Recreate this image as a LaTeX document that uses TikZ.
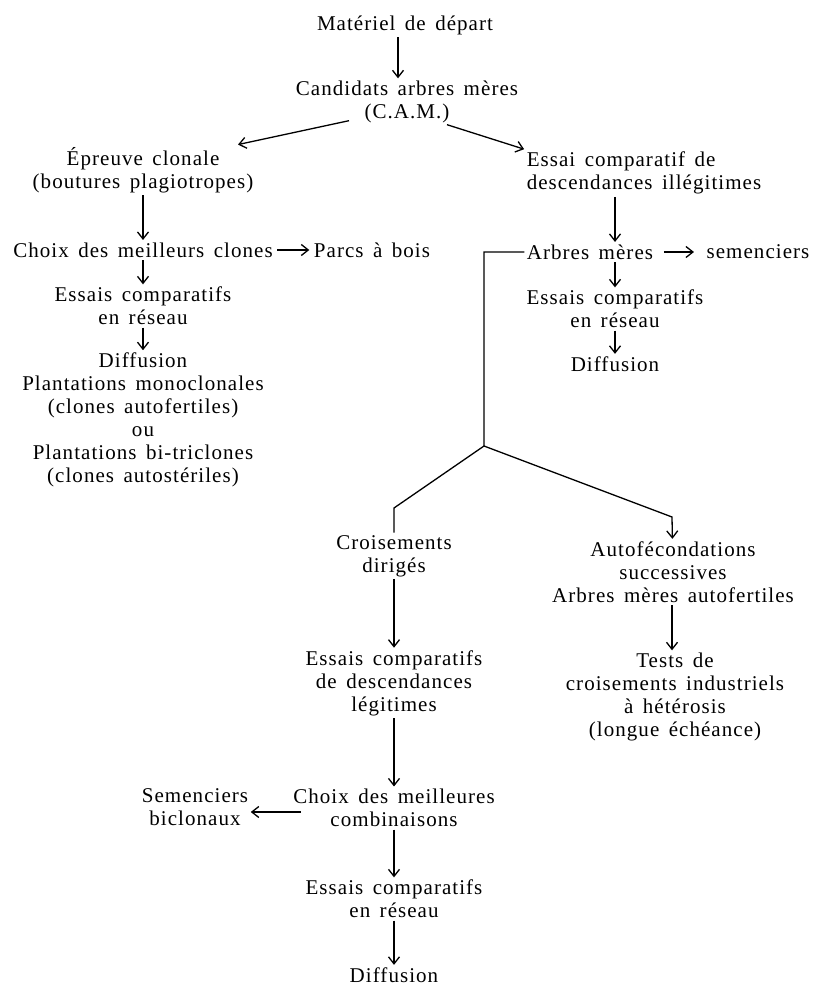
\documentclass[tikz,border=0pt]{standalone}
\usepackage{fontspec}
\setmainfont{Liberation Serif}[LetterSpace=5,WordSpace=1.5]
\usetikzlibrary{arrows.meta}

\begin{document}
\begin{tikzpicture}[x=1pt,y=-1pt,line width=1.3pt,
  every node/.style={align=center,inner sep=2pt,
    font=\fontsize{21}{23}\selectfont},
  arr/.style={-{Straight Barb[length=7pt,width=11pt]}}]

  \useasboundingbox (0,0) rectangle (815,987);

  % Starting material and candidate mother trees

  \node (mat) at (405,25) {Matériel de départ};
  \node (cand) at (407,102) {Candidats arbres mères\\(C.A.M.)};

  % Left branch: clonal selection

  \node (epr) at (143,170) {Épreuve clonale\\(boutures plagiotropes)};
  \node (clones) at (143,250) {Choix des meilleurs clones};
  \node (parcs) at (372,250) {Parcs à bois};
  \node (essL) at (143,306) {Essais comparatifs\\en réseau};
  \node (diffL) at (143,420) {Diffusion\\Plantations monoclonales\\
    (clones autofertiles)\\ou\\Plantations bi-triclones\\(clones autostériles)};

  % Right branch: progeny trials

  \node [align=left] (essai) at (644,173)
    {Essai comparatif de\\descendances illégitimes};
  \node (arbres) at (590,252) {Arbres mères};
  \node (semR) at (758,252) {semenciers};
  \node (essR) at (615,309) {Essais comparatifs\\en réseau};
  \node (diffR) at (615,364) {Diffusion};

  % Lower part: controlled crosses and selfing

  \coordinate (fork) at (484,446);
  \coordinate (forkL) at (394,508);
  \coordinate (forkR) at (672,517);

  \node (crois) at (394,556) {Croisements\\dirigés};
  \node (autof) at (673,572) {Autofécondations\\successives\\
    Arbres mères autofertiles};
  \node (tests) at (675,697) {Tests de\\croisements industriels\\
    à hétérosis\\(longue échéance)};
  \node (essB) at (394,683) {Essais comparatifs\\de descendances\\légitimes};
  \node (choixB) at (394,808) {Choix des meilleures\\combinaisons};
  \node (semB) at (195,807) {Semenciers\\biclonaux};
  \node (resB) at (394,899) {Essais comparatifs\\en réseau};
  \node (diffB) at (394,975) {Diffusion};

  % connections

  \draw [arr] ([xshift=-7pt]mat.south) -- ([xshift=-9pt]cand.north);
  \draw [arr] ([shift={(-58,-5)}]cand.south) -- ([xshift=95pt]epr.north);
  \draw [arr] ([shift={(40,-1)}]cand.south) -- (essai.north west);

  \draw [arr] (epr) -- (clones);
  \draw [arr, shorten <=2pt, shorten >=2pt] (clones) -- (parcs);
  \draw [arr] (clones) -- (essL);
  \draw [arr] (essL) -- (diffL);

  \draw [arr] (essai.south -| essR) -- (arbres.north -| essR);
  \draw [arr, shorten <=8pt, shorten >=10pt] (arbres) -- (semR);
  \draw [arr] (arbres.south -| essR) -- (essR);
  \draw [arr] (essR) -- (diffR);

  \draw (arbres.west) -| (fork) -- (forkL) -- (crois);
  \draw [arr] (fork) -- (forkR) -- (autof);
  \draw [arr] (autof.south -| forkR) -- (tests.north -| forkR);

  \draw [arr] (crois) -- (essB);
  \draw [arr] (essB) -- (choixB);
  \coordinate (biclo) at ([shift={(10,4)}]choixB.west);
  \draw [arr] (biclo) -- (biclo -| semB.east);
  \draw [arr] (choixB) -- (resB);
  \draw [arr] (resB) -- (diffB);
\end{tikzpicture}
\end{document}
